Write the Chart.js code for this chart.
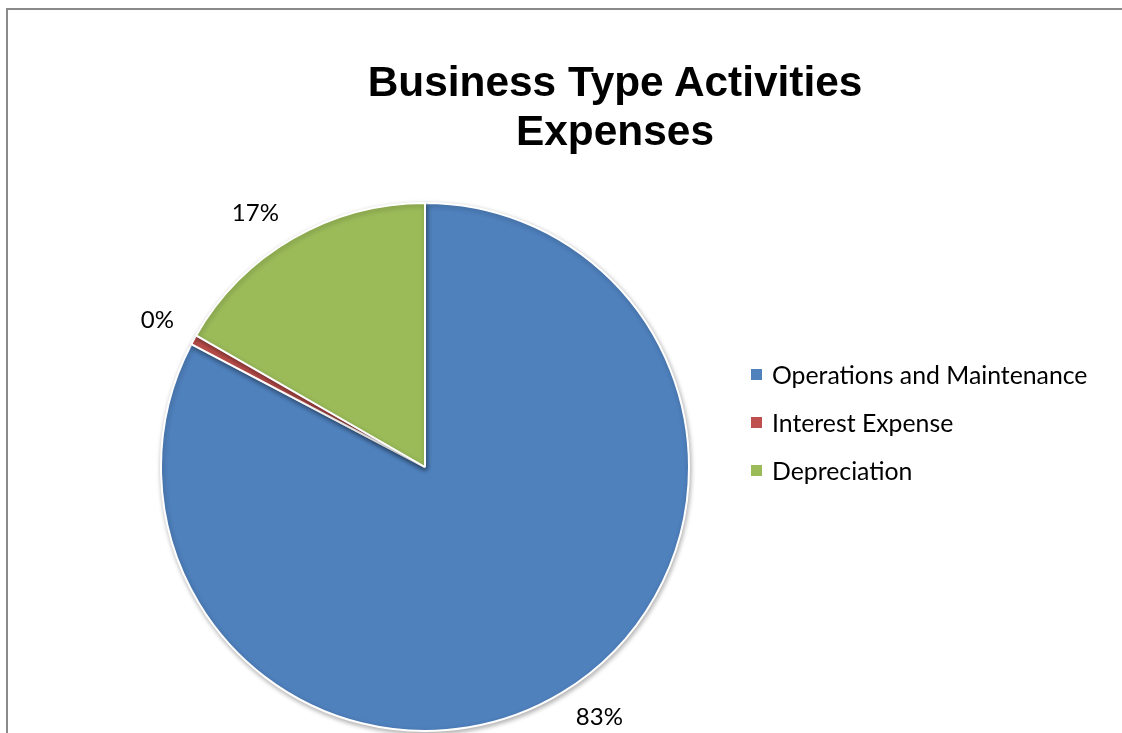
<!DOCTYPE html>
<html>
<head>
<meta charset="utf-8">
<script src="https://cdn.jsdelivr.net/npm/chart.js@4.4.1/dist/chart.umd.min.js"></script>
<style>
    html, body { margin: 0; padding: 0; background: #fff; overflow: hidden; }
    #wrap { position: relative; width: 1122px; height: 733px; overflow: hidden; }
    #frame {
        position: absolute; left: 6px; top: 8px; width: 1140px; height: 760px;
        border-top: 2px solid #8a8a8a; border-left: 2px solid #8a8a8a;
    }
    #chart { position: absolute; left: 0; top: 0; }
    #title {
        position: absolute; left: 315px; top: 57px; width: 600px; text-align: center;
        font-family: "Liberation Sans", Arial, sans-serif; font-weight: bold;
        font-size: 42.4px; line-height: 49px; color: #000;
    }
    #legend { position: absolute; left: 751px; top: 357px; font-family: Lato, sans-serif; font-size: 24.8px; color: #000; }
    #legend .item { height: 48px; display: flex; align-items: center; position: absolute; left: 0; white-space: nowrap; }
    #legend .box { width: 11px; height: 11px; margin-right: 10px; }
</style>
</head>
<body>
<div id="wrap">
    <div id="frame"></div>
    <canvas id="chart" width="1122" height="733"></canvas>
    <div id="title">Business Type Activities<br>Expenses</div>
    <div id="legend"></div>
</div>
<script>
// Datos
const categories = ['Operations and Maintenance', 'Interest Expense', 'Depreciation'];
const values = [82.7, 0.6, 16.7];
const pctLabels = ['83%', '0%', '17%'];

// Colores
const COLORS = ['#4F81BD', '#C0504D', '#9BBB59'];

// leyenda en HTML
const legend = document.getElementById('legend');
categories.forEach((name, i) => {
    const item = document.createElement('div');
    item.className = 'item';
    item.style.top = (i * 48 - 7) + 'px';
    item.innerHTML = '<span class="box" style="background:' + COLORS[i] + '"></span>' + name;
    legend.appendChild(item);
});

// sombra debajo del pastel
const shadowPlugin = {
    id: 'pieShadow',
    beforeDatasetsDraw(chart) {
        const ctx = chart.ctx;
        ctx.save();
        ctx.shadowColor = 'rgba(0, 0, 0, 0.3)';
        ctx.shadowBlur = 5;
        ctx.shadowOffsetX = 1;
        ctx.shadowOffsetY = 2;
    },
    afterDatasetsDraw(chart) {
        chart.ctx.restore();
    }
};

// etiquetas de porcentaje fuera del pastel
const outsideLabels = {
    id: 'outsideLabels',
    afterDraw(chart) {
        const ctx = chart.ctx;
        const arcs = chart.getDatasetMeta(0).data;
        ctx.save();
        ctx.font = '24px Lato, sans-serif';
        ctx.fillStyle = '#000';
        ctx.textAlign = 'center';
        ctx.textBaseline = 'middle';
        arcs.forEach((arc, i) => {
            const span = arc.endAngle - arc.startAngle;
            // pequeño giro como en Excel, menor en porciones diminutas
            const mid = (arc.startAngle + arc.endAngle) / 2 - 0.065 * Math.min(1, span);
            const r = arc.outerRadius + 41;
            ctx.fillText(pctLabels[i], arc.x + Math.cos(mid) * r, arc.y + Math.sin(mid) * r);
        });
        ctx.restore();
    }
};

new Chart(document.getElementById('chart'), {
    type: 'pie',
    data: {
        labels: categories,
        datasets: [{
            data: values,
            backgroundColor: COLORS,
            borderColor: '#ffffff',
            borderWidth: 2,
        }]
    },
    options: {
        responsive: false,
        animation: false,
        layout: {
            padding: { left: 160, top: 202, right: 432, bottom: 1 }
        },
        plugins: {
            legend: { display: false },
            tooltip: { enabled: false }
        }
    },
    plugins: [shadowPlugin, outsideLabels]
});
</script>
</body>
</html>
